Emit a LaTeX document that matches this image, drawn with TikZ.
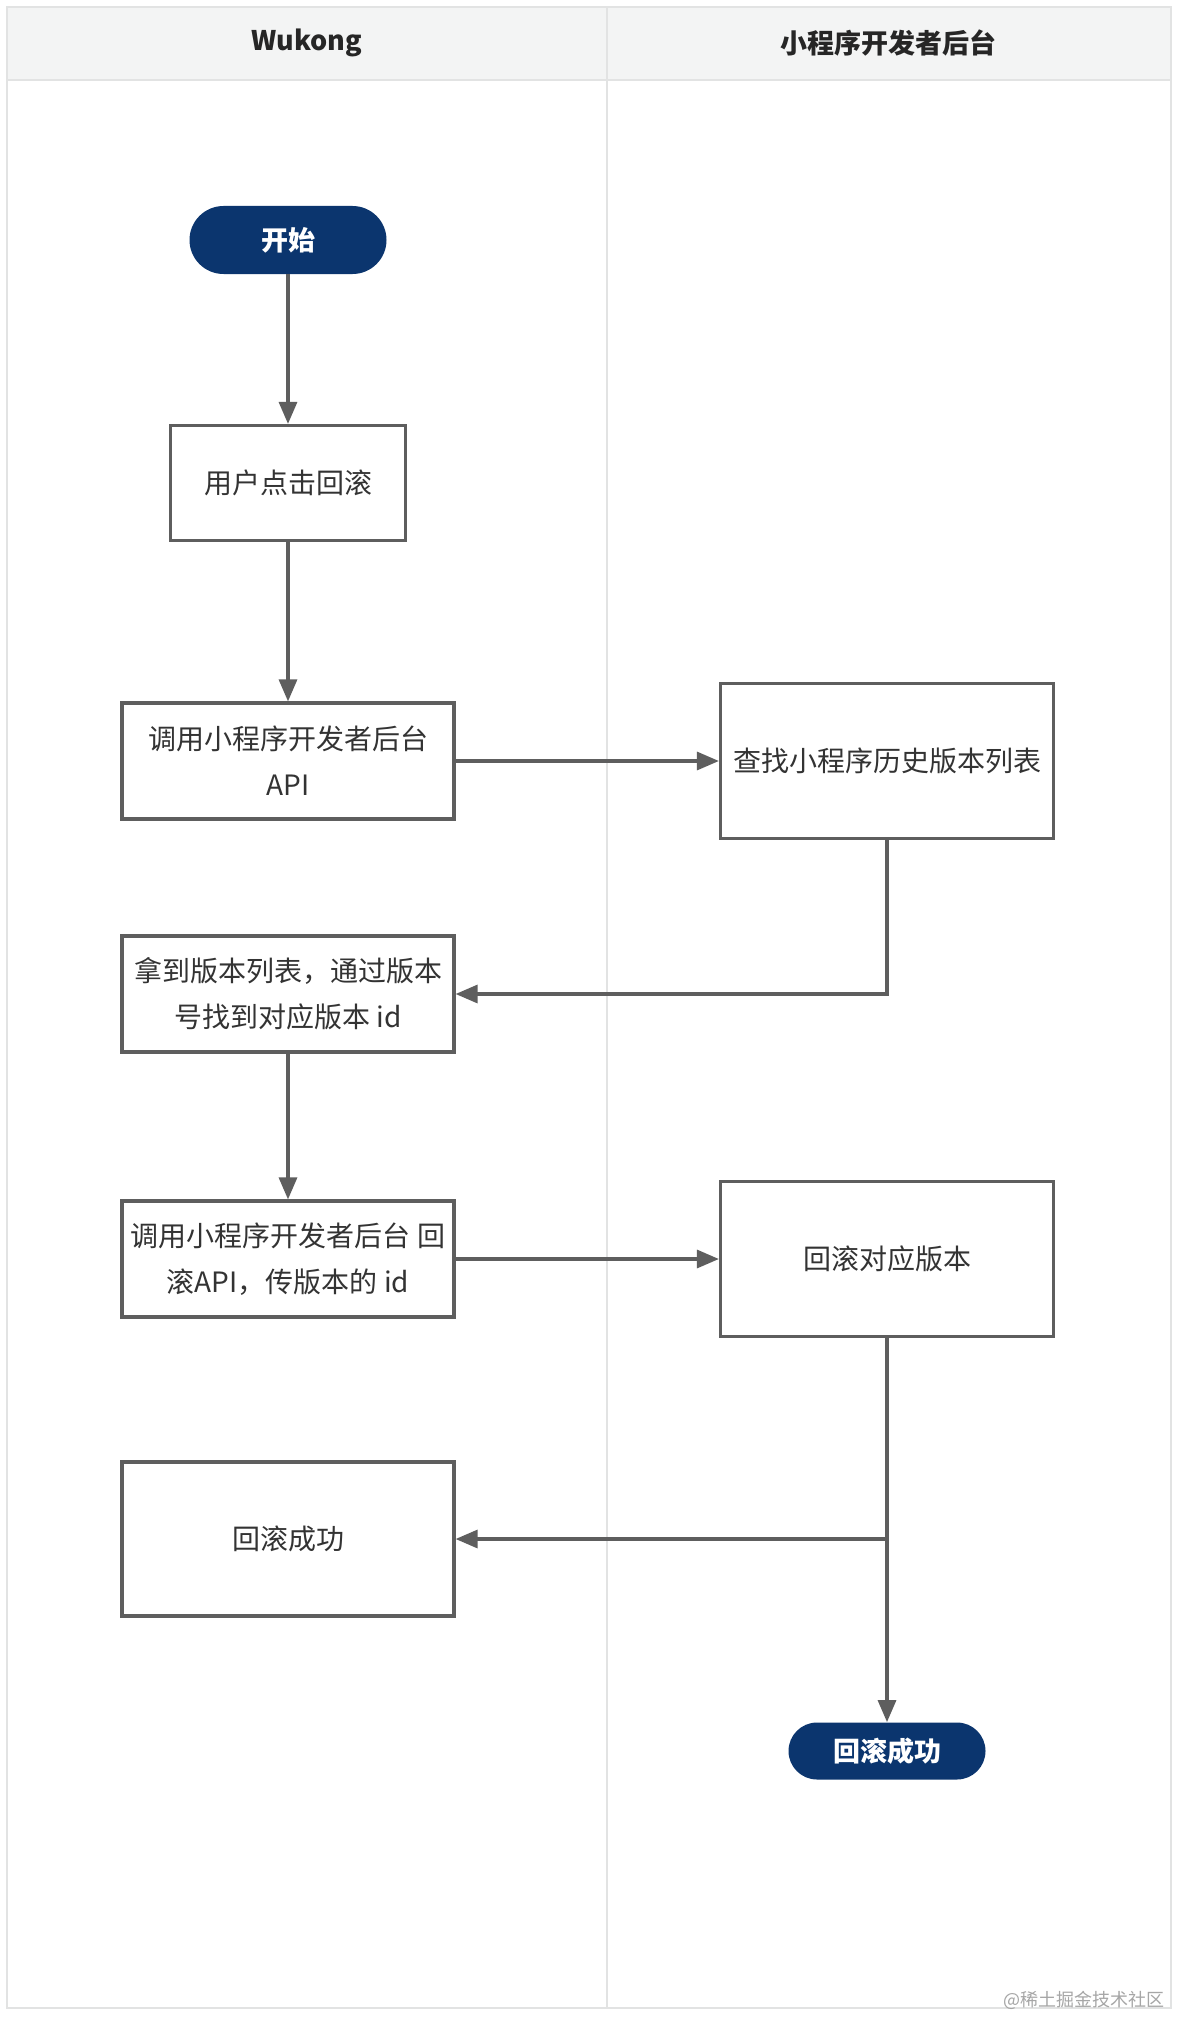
\documentclass[tikz,border=0pt]{standalone}
\usepackage{fontspec}
\newfontfamily\cjk{Noto Sans CJK SC}
\usetikzlibrary{arrows.meta}
\definecolor{navy}{HTML}{0B356E}
\definecolor{ln}{HTML}{5E5E5E}
\definecolor{txt}{HTML}{333333}
\definecolor{hdr}{HTML}{F3F4F4}
\definecolor{frm}{HTML}{E2E3E3}
\tikzset{
  box/.style={draw=ln, line width=1.6pt, fill=white, align=center, text=txt, font=\cjk\fontsize{14}{23}\selectfont, inner sep=0pt},
  term/.style={fill=navy, text=white, align=center, font=\cjk\bfseries\fontsize{13.5}{16}\selectfont, inner sep=0pt},
  arr/.style={draw=ln, line width=1.6pt, -{Triangle[length=11pt,width=9pt]}},
  lane/.style={font=\cjk\bfseries\fontsize{13.5}{16}\selectfont, text=black!85}
}
\begin{document}
\begin{tikzpicture}[x=0.5pt,y=-0.5pt]
\useasboundingbox (0,0) rectangle (1179,2017);
\fill[white] (0,0) rectangle (1179,2017);
% lanes
\fill[hdr] (7,7) rectangle (1171,80);
\draw[frm, line width=1pt] (7,80) -- (1171,80);
\draw[frm, line width=1pt] (607,7) -- (607,2008);
\draw[frm, line width=1pt] (7,7) rectangle (1171,2008);
\node[lane] (l1) at (307,43) {Wukong};
\node[lane] (l2) at (888,43) {小程序开发者后台};
% nodes
\node[term, minimum width=98.5pt, minimum height=34pt, rounded corners=17pt] (start) at (288,240) {开始};
\node[box, minimum width=117.5pt, minimum height=57.5pt] (user) at (288,483) {用户点击回滚};
\node[box, minimum width=166pt, minimum height=58pt] (call1) at (288,761) {调用小程序开发者后台\\API};
\node[box, minimum width=166.5pt, minimum height=77.5pt] (find) at (887,761) {查找小程序历史版本列表};
\node[box, minimum width=166pt, minimum height=58pt] (get) at (288,994) {拿到版本列表，通过版本\\号找到对应版本 id};
\node[box, minimum width=166pt, minimum height=58pt] (call2) at (288,1259) {调用小程序开发者后台 回\\滚API，传版本的 id};
\node[box, minimum width=166.5pt, minimum height=77.5pt] (rb) at (887,1259) {回滚对应版本};
\node[box, minimum width=166pt, minimum height=77pt] (ok) at (288,1539) {回滚成功};
\node[term, minimum width=98.5pt, minimum height=28.5pt, rounded corners=14.25pt] (end) at (887,1751) {回滚成功};
% connectors
\draw[arr] (start) -- (user);
\draw[arr] (user) -- (call1);
\draw[arr] (call1.east) -- (find.west);
\draw[arr] (find.south) |- (get.east);
\draw[arr] (get) -- (call2);
\draw[arr] (call2.east) -- (rb.west);
\draw[arr] (rb) -- (end);
\coordinate (br) at (rb.south |- ok.east);
\draw[arr] (br) -- (ok.east);
% watermark
\node[font=\cjk\fontsize{9}{10}\selectfont, text=black!35, anchor=east] (wm) at (1172,2000) {@稀土掘金技术社区};
\end{tikzpicture}
\end{document}
